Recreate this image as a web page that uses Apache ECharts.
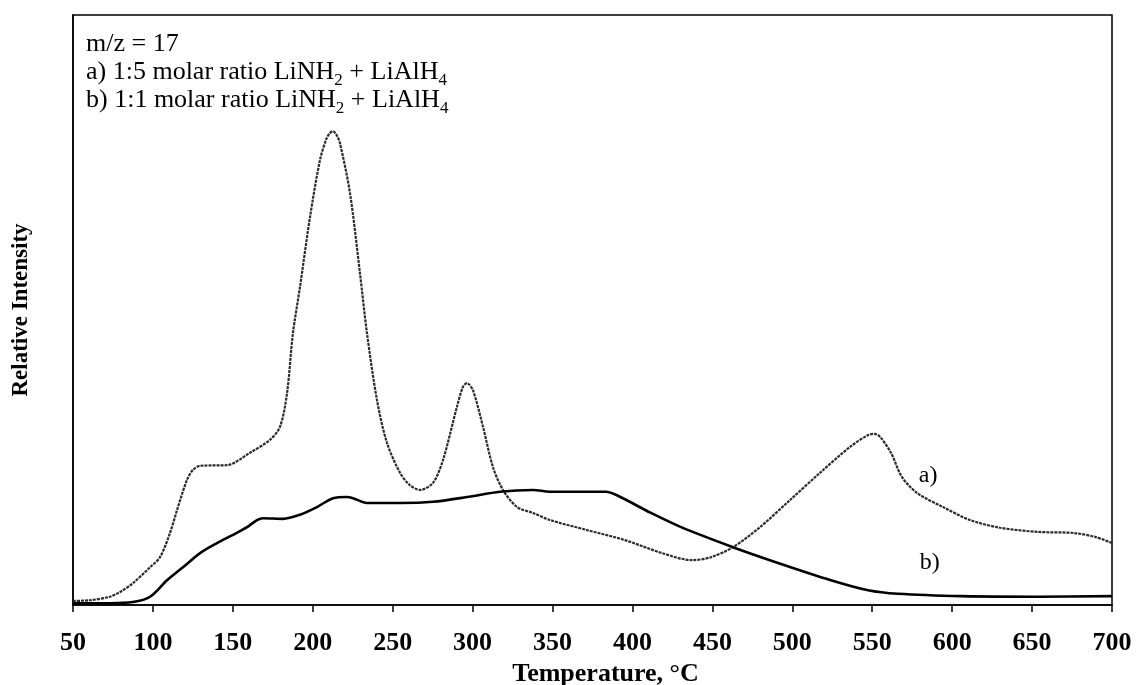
<!DOCTYPE html>
<html>
<head>
<meta charset="utf-8">
<title>m/z = 17 TPD-MS</title>
<script src="https://cdn.jsdelivr.net/npm/echarts@6/dist/echarts.min.js"></script>
<style>
  html, body { margin: 0; padding: 0; background: #ffffff; }
  #chart { width: 1138px; height: 685px; }
</style>
</head>
<body>
<div id="chart"></div>
<script>
// Temperature (°C) / relative intensity pairs for each sample
const curveA = [ // a) 1:5 molar ratio LiNH2 + LiAlH4
  [50, 0.7], [60.6, 0.8], [73, 1.4], [79.4, 2.2], [87.5, 3.7], [98.2, 6.4],
  [104.4, 8.1], [110.7, 12.2], [115.1, 16.1], [121.3, 21.2], [125.1, 22.9],
  [129.5, 23.6], [146.3, 23.7], [160.7, 25.8], [173.2, 28.0], [179.5, 30.2],
  [183.9, 35.9], [187.6, 46.1], [192.0, 53.9], [198.3, 65.8], [204.5, 75.4],
  [208.5, 79.0], [210.8, 80.0], [212.7, 80.3], [215.0, 79.6], [217.0, 78.3],
  [223.3, 69.8], [229.5, 56.3], [233.9, 46.1], [240.2, 34.7], [246.4, 27.5],
  [254.6, 22.4], [260.8, 20.3], [267.1, 19.5], [275.2, 20.7], [281.5, 24.6],
  [290.2, 33.6], [294.0, 37.0], [296.5, 37.6], [300.2, 36.4], [306.5, 30.2],
  [312.7, 23.4], [319.0, 19.5], [327.8, 16.6], [337.8, 15.6], [348.4, 14.4],
  [371.6, 12.7], [395.3, 11.0], [418.5, 8.8], [437.2, 7.6], [449.1, 8.1],
  [462.9, 9.8], [479.8, 13.2], [498.6, 17.8], [517.3, 22.4], [536.1, 26.8],
  [547.4, 28.8], [551.5, 29.0], [554.9, 28.5], [561.7, 25.8], [568.6, 21.7],
  [578.0, 19.0], [594.3, 16.6], [611.2, 14.4], [629.9, 13.1], [653.1, 12.4],
  [676.2, 12.2], [690.0, 11.5], [700, 10.5]
];

const curveB = [ // b) 1:1 molar ratio LiNH2 + LiAlH4
  [50, 0.3], [73, 0.3], [87.5, 0.5], [98.2, 1.4], [108.8, 4.2], [118.8, 6.4],
  [129.5, 8.8], [140.1, 10.5], [150.1, 11.9], [158.9, 13.2], [165.1, 14.4],
  [168.9, 14.7], [181.4, 14.6], [192.0, 15.3], [202.6, 16.6], [212.7, 18.1],
  [221.4, 18.3], [225.2, 18.1], [233.9, 17.3], [254.6, 17.3], [275.2, 17.5],
  [296.5, 18.3], [317.1, 19.2], [337.8, 19.5], [348.4, 19.2], [383.4, 19.2],
  [390.3, 18.6], [411.6, 15.6], [430.4, 13.2], [462.9, 9.8], [489.2, 7.3],
  [524.2, 4.2], [547.4, 2.5], [566.1, 1.9], [606.2, 1.5], [653.1, 1.4],
  [700, 1.5]
];

const xTicks = { min: 50, max: 700, step: 50 };
const xTitle = 'Temperature, °C';
const yTitle = 'Relative Intensity';
const curveTags = [
  { text: 'a)', at: [585, 21.9] },
  { text: 'b)', at: [586, 7.1] }
];

const serif = '"Liberation Serif", "Times New Roman", serif';

// Curve tag drawn at a data coordinate, with an invisible anchor symbol
function tag(t) {
  return {
    symbol: 'rect',
    symbolSize: 1,
    itemStyle: { color: 'rgba(0,0,0,0)' },
    data: [{ coord: t.at, value: t.text }],
    label: {
      show: true, position: 'inside', formatter: t.text,
      fontFamily: serif, fontSize: 24, color: '#000'
    }
  };
}

const chart = echarts.init(document.getElementById('chart'), null, { renderer: 'canvas' });

chart.setOption({
  backgroundColor: '#ffffff',
  animation: false,
  grid: {
    left: 73, right: 26, top: 15, bottom: 80,
    outerBoundsMode: 'none',
    containLabel: false,
    show: true, borderColor: '#000', borderWidth: 1.5, backgroundColor: 'transparent'
  },
  xAxis: {
    type: 'value',
    min: xTicks.min, max: xTicks.max, interval: xTicks.step,
    name: xTitle, nameLocation: 'middle', nameGap: 51,
    nameTextStyle: { fontFamily: serif, fontWeight: 'bold', fontSize: 26, color: '#000', padding: [0, 0, 0, 26] },
    axisLine: { show: true, lineStyle: { color: '#000', width: 1.5 } },
    axisTick: { show: true, inside: false, length: 7, lineStyle: { color: '#000', width: 1.5 } },
    axisLabel: { fontFamily: serif, fontWeight: 'bold', fontSize: 26, color: '#000', margin: 25 },
    splitLine: { show: false }
  },
  yAxis: {
    type: 'value', min: 0, max: 100,
    name: yTitle, nameLocation: 'middle', nameGap: 40,
    nameTextStyle: { fontFamily: serif, fontWeight: 'bold', fontSize: 23, color: '#000' },
    axisLine: { show: true, lineStyle: { color: '#000', width: 1.5 } },
    axisTick: { show: false },
    axisLabel: { show: false },
    splitLine: { show: false }
  },
  graphic: [{
    type: 'text',
    left: 86, top: 30,
    style: {
      text: 'm/z = 17\n' +
            'a) 1:5 molar ratio LiNH{sub|2} + LiAlH{sub|4}\n' +
            'b) 1:1 molar ratio LiNH{sub|2} + LiAlH{sub|4}',
      font: '26px ' + serif,
      fill: '#000',
      lineHeight: 28,
      rich: {
        // subscript digits: smaller and pushed below the baseline by top padding
        sub: {
          fontSize: 17, fontFamily: serif, fill: '#000',
          verticalAlign: 'top', padding: [14, 0, 0, 0], lineHeight: 28
        }
      }
    }
  }],
  series: [
    {
      name: 'a)',
      type: 'line',
      data: curveA,
      showSymbol: false,
      smooth: 0.3,
      lineStyle: { color: '#2b2b2b', width: 2.2, type: [3, 1] },
      markPoint: tag(curveTags[0]),
      z: 3
    },
    {
      name: 'b)',
      type: 'line',
      data: curveB,
      showSymbol: false,
      smooth: 0.3,
      lineStyle: { color: '#000', width: 2.6 },
      markPoint: tag(curveTags[1]),
      z: 4
    }
  ]
});
</script>
</body>
</html>
